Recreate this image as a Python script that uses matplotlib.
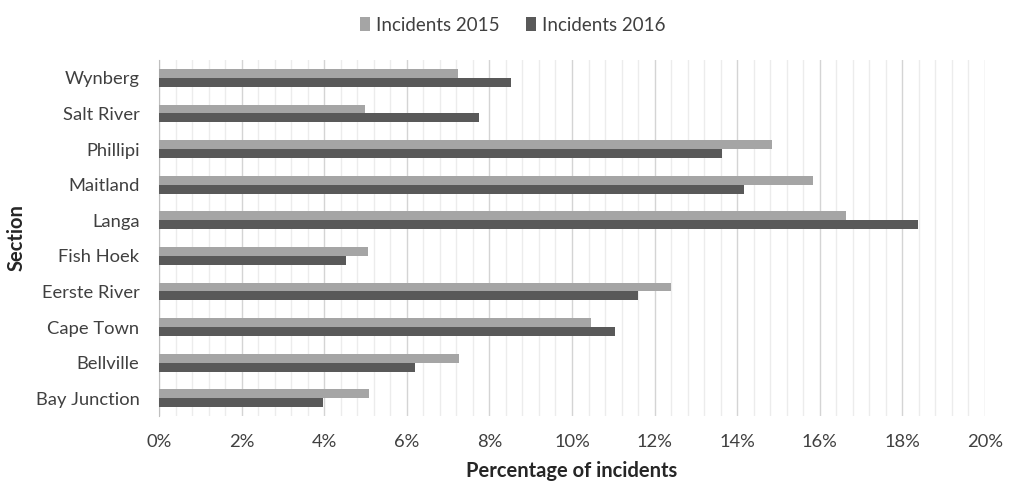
import numpy as np
import matplotlib.pyplot as plt
from matplotlib.ticker import MultipleLocator, PercentFormatter

plt.rcParams['font.family'] = ['Lato', 'DejaVu Sans']

# sections listed bottom to top
sections = ['Bay Junction', 'Bellville', 'Cape Town', 'Eerste River', 'Fish Hoek',
            'Langa', 'Maitland', 'Phillipi', 'Salt River', 'Wynberg']
incidents_2015 = [5.08, 7.26, 10.45, 12.40, 5.06, 16.63, 15.84, 14.85, 4.99, 7.25]
incidents_2016 = [3.98, 6.21, 11.04, 11.59, 4.53, 18.39, 14.17, 13.62, 7.75, 8.53]

fig = plt.figure(figsize=(10.09, 4.84), dpi=100)
ax = fig.add_axes([0.1576, 0.1405, 0.8186, 0.7355])

y = np.arange(len(sections))
h = 0.25
ax.barh(y + h / 2, incidents_2015, height=h, color='#a5a5a5', label='Incidents 2015', zorder=3)
ax.barh(y - h / 2, incidents_2016, height=h, color='#595959', label='Incidents 2016', zorder=3)

ax.set_xlim(0, 20)
ax.set_ylim(-0.5, len(sections) - 0.5)
ax.set_yticks(y)
ax.set_yticklabels(sections)
ax.xaxis.set_major_locator(MultipleLocator(2))
ax.xaxis.set_minor_locator(MultipleLocator(0.4))
ax.xaxis.set_major_formatter(PercentFormatter(decimals=0))

ax.grid(axis='x', which='major', color='#d4d4d4', linewidth=1.0, zorder=0)
ax.grid(axis='x', which='minor', color='#ececec', linewidth=1.0, zorder=0)
ax.tick_params(axis='both', which='both', length=0, labelsize=13.2, colors='#404040')
ax.tick_params(axis='x', pad=13)
ax.tick_params(axis='y', pad=14)

for side in ['top', 'right', 'bottom']:
    ax.spines[side].set_visible(False)
ax.spines['left'].set_color('#bfbfbf')

ax.set_xlabel('Percentage of incidents', fontsize=14.5, fontweight='bold', color='#262626', labelpad=8)
ax.set_ylabel('Section', fontsize=14.5, fontweight='bold', color='#262626')
ax.yaxis.set_label_coords(-0.16, 0.5)

fig.legend(loc='upper center', bbox_to_anchor=(0.508, 1.0), ncol=2, frameon=False,
           fontsize=13.5, handlelength=0.55, handleheight=0.75, handletextpad=0.3,
           columnspacing=1.4, labelcolor='#404040')

fig.savefig('out.png', dpi=100, facecolor='white')
